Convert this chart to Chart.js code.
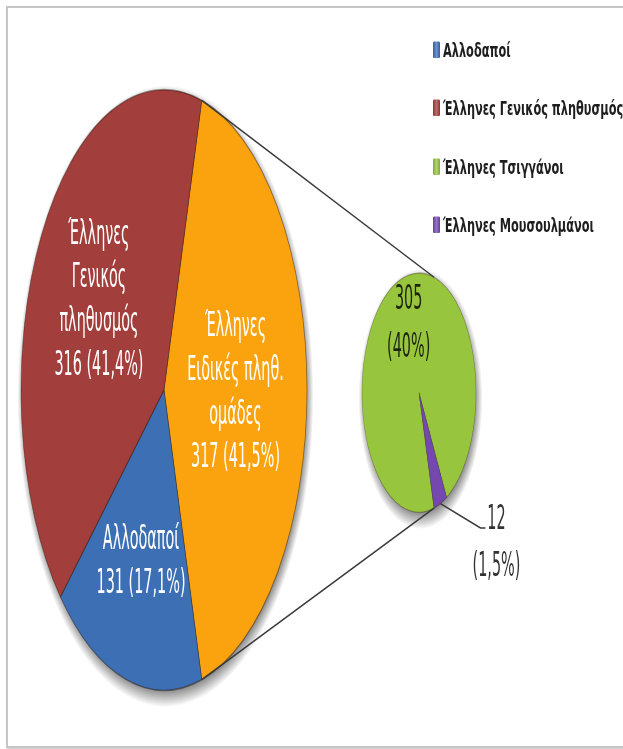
<!DOCTYPE html>
<html>
<head>
<meta charset="utf-8">
<script src="https://cdn.jsdelivr.net/npm/chart.js@4.4.1/dist/chart.umd.min.js"></script>
<style>
  html, body { margin: 0; padding: 0; background: #fff; }
  #stage { position: relative; width: 623px; height: 749px; overflow: hidden; background: #fff; }
  #frame { position: absolute; left: 6px; top: 6px; width: 660px; height: 738px;
           border: 2px solid #c6c6c6; box-shadow: 1px 1px 2px rgba(0,0,0,0.25); }
  canvas { position: absolute; left: 0; top: 0; }
  #legend { position: absolute; left: 0; top: 0; width: 623px; height: 749px; pointer-events: none;
            font-family: "DejaVu Sans Condensed", "Liberation Sans", sans-serif;
            font-weight: bold; font-size: 12.6px; color: #1e1e1e; }
  .item { position: absolute; left: 433px; white-space: nowrap; display: flex; align-items: center;
          transform: scaleY(1.5); transform-origin: left center; }
  .swatch { width: 7px; height: 11px; margin-right: 3px; border-radius: 1px; }
</style>
</head>
<body>
<div id="stage">
  <div id="frame"></div>
  <canvas id="mainPie" width="623" height="749"></canvas>
  <canvas id="subPie" width="623" height="749"></canvas>
  <div id="legend"></div>
</div>
<script>
// Main pie: the "special groups" slice is broken out into the secondary pie
const mainLabelLines = [
  ['Έλληνες', 'Ειδικές πληθ.', 'ομάδες'],
  ['Αλλοδαποί'],
  ['Έλληνες', 'Γενικός', 'πληθυσμός']
];
const mainCategories = mainLabelLines.map(l => l.join(' '));
const mainValues = [317, 131, 316];
const mainPercents = [41.5, 17.1, 41.4];
const mainColors = ['#FBA30F', '#3D6FB5', '#A23E3B'];

// Secondary pie: breakdown of the special groups
const subCategories = ['Έλληνες Τσιγγάνοι', 'Έλληνες Μουσουλμάνοι'];
const subValues = [305, 12];
const subPercents = [40, 1.5];
const subColors = ['#98C53E', '#7448AE'];

// Legend entries (the broken-out slice itself is not listed)
const legendLabels = [mainCategories[1], mainCategories[2], subCategories[0], subCategories[1]];
const legendColors = [mainColors[1], mainColors[2], subColors[0], subColors[1]];

const SY = 2.1;              // vertical stretch of the whole drawing
const total = mainValues.reduce((a, b) => a + b, 0);
const otherShare = mainValues[0] / total;
const mainRotation = 90 - otherShare * 180;   // centre the broken-out slice on the right
const subRotation = 90 + otherShare * 180;

const fmtPct = p => String(p).replace('.', ',') + '%';
const LABEL_FONT = '16px "DejaVu Sans Condensed", "Liberation Sans Narrow", sans-serif';

function lighten(hex, amt) {
  const n = parseInt(hex.slice(1), 16);
  let r = (n >> 16) & 255, g = (n >> 8) & 255, b = n & 255;
  const f = v => Math.max(0, Math.min(255, Math.round(amt >= 0 ? v + (255 - v) * amt : v * (1 + amt))));
  return `rgb(${f(r)},${f(g)},${f(b)})`;
}

function sliceFill(colors) {
  return (ctx) => {
    const base = colors[ctx.dataIndex];
    const el = ctx.element;
    if (!el || !el.outerRadius) return base;
    const g = ctx.chart.ctx.createRadialGradient(el.x, el.y, 0, el.x, el.y, el.outerRadius);
    g.addColorStop(0, base);
    g.addColorStop(0.9, base);
    g.addColorStop(0.965, lighten(base, 0.16));
    g.addColorStop(1, lighten(base, -0.12));
    return g;
  };
}

// Stretches the pie vertically, adds a soft drop shadow and lets a callback draw labels
function stretchPlugin(drawLabels) {
  return {
    id: 'stretch',
    beforeDatasetsDraw(chart) {
      const c = chart.ctx;
      c.save();
      c.scale(1, SY);
      const arc = chart.getDatasetMeta(0).data[0];
      const sx = arc.x + 1.5, sy = arc.y + 3, r = arc.outerRadius;
      const g = c.createRadialGradient(sx, sy, r - 4, sx, sy, r + 5);
      g.addColorStop(0, 'rgba(0,0,0,0.5)');
      g.addColorStop(0.45, 'rgba(0,0,0,0.28)');
      g.addColorStop(1, 'rgba(0,0,0,0)');
      c.beginPath();
      c.arc(sx, sy, r + 5, 0, Math.PI * 2);
      c.fillStyle = g;
      c.fill();
    },
    afterDatasetsDraw(chart) {
      if (drawLabels) drawLabels(chart);
      chart.ctx.restore();
    }
  };
}

function drawLines(c, lines, x, y, lh) {
  const y0 = y - (lines.length - 1) * lh / 2;
  lines.forEach((t, k) => c.fillText(t, x, y0 + k * lh));
}

// label placement: fraction of the radius along the mid-angle, plus a small vertical nudge
const mainLabelRadius = [0.5, 0.6, 0.53];
const mainLabelNudge = [1.5, -0.5, -3.8];
function drawMainLabels(chart) {
  const c = chart.ctx;
  c.font = LABEL_FONT;
  c.fillStyle = '#ffffff';
  c.textAlign = 'center';
  c.textBaseline = 'middle';
  chart.getDatasetMeta(0).data.forEach((arc, i) => {
    const mid = (arc.startAngle + arc.endAngle) / 2;
    const r = arc.outerRadius * mainLabelRadius[i];
    const lines = mainLabelLines[i].concat(`${mainValues[i]} (${fmtPct(mainPercents[i])})`);
    drawLines(c, lines, arc.x + Math.cos(mid) * r, arc.y + Math.sin(mid) * r + mainLabelNudge[i], 20.8);
  });
}

function drawSubLabels(chart) {
  const c = chart.ctx;
  c.font = LABEL_FONT;
  c.textAlign = 'center';
  c.textBaseline = 'middle';
  const arcs = chart.getDatasetMeta(0).data;
  // inside label of the large slice
  const a = arcs[0];
  const mid = (a.startAngle + a.endAngle) / 2;
  c.fillStyle = '#1d2410';
  drawLines(c, [String(subValues[0]), `(${fmtPct(subPercents[0])})`],
            a.x + Math.cos(mid) * a.outerRadius * 0.62 + 3, a.y + Math.sin(mid) * a.outerRadius * 0.62, 23);
  // outside label of the thin slice
  const b = arcs[1];
  const bm = (b.startAngle + b.endAngle) / 2;
  const ox = b.x + Math.cos(bm) * b.outerRadius, oy = b.y + Math.sin(bm) * b.outerRadius;
  const lx = ox + 56, ly = oy + 19;
  c.fillStyle = '#333333';
  drawLines(c, [String(subValues[1]), `(${fmtPct(subPercents[1])})`], lx, ly, 22.4);
  chart.$leader = { ox, oy, ex: lx - 16, ey: ly - 7.4, tx: lx - 11 };
}

// Connector lines between the two pies and the leader line, drawn unstretched
const connectorPlugin = {
  id: 'connectors',
  afterDraw(chart) {
    const c = chart.ctx;
    const A = mainChart.getDatasetMeta(0).data[0];
    const B = chart.getDatasetMeta(0).data[0];
    c.save();
    c.strokeStyle = '#3a3a3a';
    c.lineWidth = 1.5;
    [A.startAngle, A.endAngle].forEach(t => {
      c.beginPath();
      c.moveTo(A.x + A.outerRadius * Math.cos(t), (A.y + A.outerRadius * Math.sin(t)) * SY);
      c.lineTo(B.x + B.outerRadius * Math.cos(t), (B.y + B.outerRadius * Math.sin(t)) * SY);
      c.stroke();
    });
    const L = chart.$leader;
    if (L) {
      c.beginPath();
      c.moveTo(L.ox, L.oy * SY);
      c.lineTo(L.ex, L.ey * SY);
      c.lineTo(L.tx, L.ey * SY);
      c.stroke();
    }
    c.restore();
  }
};

const common = {
  responsive: false,
  animation: false,
  events: [],
  devicePixelRatio: 1,
  plugins: { legend: { display: false }, tooltip: { enabled: false } }
};

const mainChart = new Chart(document.getElementById('mainPie'), {
  type: 'pie',
  data: {
    labels: mainCategories,
    datasets: [{
      data: mainValues,
      backgroundColor: sliceFill(mainColors),
      borderColor: 'rgba(40,20,10,0.45)',
      borderWidth: 0.8,
      hoverOffset: 0,
      clip: false
    }]
  },
  options: Object.assign({}, common, {
    rotation: mainRotation,
    radius: 143,
    layout: { padding: { left: 19, right: 314, top: 40.7, bottom: 418.3 } }
  }),
  plugins: [stretchPlugin(drawMainLabels)]
});

const subChart = new Chart(document.getElementById('subPie'), {
  type: 'pie',
  data: {
    labels: subCategories,
    datasets: [{
      data: subValues,
      backgroundColor: sliceFill(subColors),
      borderColor: 'rgba(40,30,10,0.35)',
      borderWidth: 0.6,
      hoverOffset: 0,
      clip: false
    }]
  },
  options: Object.assign({}, common, {
    rotation: subRotation,
    radius: 57,
    layout: { padding: { left: 360, right: 145, top: 128, bottom: 503 } }
  }),
  plugins: [stretchPlugin(drawSubLabels), connectorPlugin]
});

// Legend
const legendTops = [49, 107, 166, 224];
const legendEl = document.getElementById('legend');
legendLabels.forEach((lab, i) => {
  const it = document.createElement('div');
  it.className = 'item';
  it.style.top = (legendTops[i] - 9) + 'px';
  it.style.height = '18px';
  const sw = document.createElement('span');
  sw.className = 'swatch';
  sw.style.background = `linear-gradient(90deg, ${lighten(legendColors[i], -0.15)}, ${lighten(legendColors[i], 0.25)}, ${lighten(legendColors[i], -0.15)})`;
  const tx = document.createElement('span');
  tx.textContent = lab;
  it.appendChild(sw);
  it.appendChild(tx);
  legendEl.appendChild(it);
});
</script>
</body>
</html>
